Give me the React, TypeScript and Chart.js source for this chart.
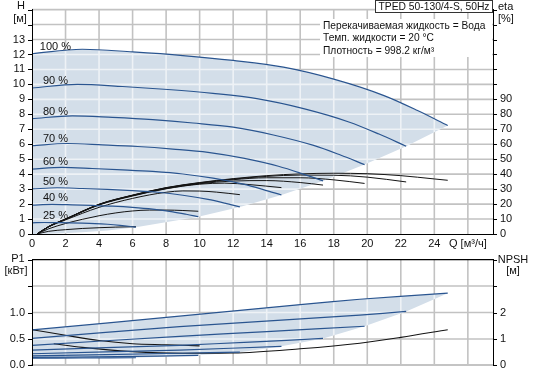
import React, { useEffect, useRef } from 'react';
import { Chart, registerables } from 'chart.js';

Chart.register(...registerables);

const FONT = '"Liberation Sans", Arial, Helvetica, sans-serif';
const BLUE = '#2a5590';
const BLACK = '#141414';
const FILL = '#d3dee9';
const GRID = '#c2c2c2';
const GRID_ON_FILL = '#eef2f6';

// ---------- texts ----------
const TITLE = 'TPED 50-130/4-S, 50Hz';
const INFO_LINES = ['Перекачиваемая жидкость = Вода', 'Темп. жидкости = 20 °C', 'Плотность = 998.2 кг/м³'];
const X_TITLE = 'Q [м³/ч]';
const SPEED_LABELS = ['100 %', '90 %', '80 %', '70 %', '60 %', '50 %', '40 %', '25 %'];

// ---------- grid positions ----------
const X_MAX = 27.5;
const X_GRID = [2, 4, 6, 8, 10, 12, 14, 16, 18, 20, 22, 24, 26];
const H_GRID = [1, 2, 3, 4, 5, 6, 7, 8, 9, 10, 11, 12, 13, 14, 15];
const P_GRID = [0.5, 1, 1.5];
const P_TOP = 2;

// ---------- top panel: head H [м] ----------
const Q100 = [0, 3, 6, 9, 12, 15, 18, 21, 23, 24.8];
const H100 = [12.05, 12.35, 12.17, 11.93, 11.6, 11.15, 10.35, 9.25, 8.25, 7.25];
const Q90 = [0, 2.7, 5.4, 8.1, 10.8, 13.5, 16.2, 18.9, 20.7, 22.32];
const H90 = [9.76, 10.0, 9.86, 9.66, 9.4, 9.03, 8.38, 7.49, 6.68, 5.87];
const Q80 = [0, 2.4, 4.8, 7.2, 9.6, 12, 14.4, 16.8, 18.4, 19.84];
const H80 = [7.71, 7.9, 7.79, 7.64, 7.42, 7.14, 6.62, 5.92, 5.28, 4.64];
const Q70 = [0, 2.1, 4.2, 6.3, 8.4, 10.5, 12.6, 14.7, 16.1, 17.36];
const H70 = [5.9, 6.05, 5.96, 5.85, 5.68, 5.46, 5.07, 4.53, 4.04, 3.55];
const Q60 = [0, 1.8, 3.6, 5.4, 7.2, 9, 10.8, 12.6, 13.8, 14.88];
const H60 = [4.34, 4.45, 4.38, 4.29, 4.18, 4.01, 3.73, 3.33, 2.97, 2.61];
const Q50 = [0, 1.5, 3, 4.5, 6, 7.5, 9, 10.5, 11.5, 12.4];
const H50 = [3.01, 3.09, 3.04, 2.98, 2.9, 2.79, 2.59, 2.31, 2.06, 1.81];
const Q40 = [0, 1.2, 2.4, 3.6, 4.8, 6, 7.2, 8.4, 9.2, 9.92];
const H40 = [1.93, 1.98, 1.95, 1.91, 1.86, 1.78, 1.66, 1.48, 1.32, 1.16];
const Q25 = [0, 0.75, 1.5, 2.25, 3, 3.75, 4.5, 5.25, 5.75, 6.2];
const H25 = [0.75, 0.77, 0.76, 0.75, 0.73, 0.7, 0.65, 0.58, 0.52, 0.45];

// lower-right edge of the operating range (end points of the curves)
const EDGE_Q = [24.8, 22.32, 19.84, 17.36, 14.88, 12.4, 9.92, 6.2, 4.5, 3, 1.5, 0];
const EDGE_H = [7.25, 5.87, 4.64, 3.55, 2.61, 1.81, 1.16, 0.45, 0.24, 0.11, 0.03, 0];

// ---------- top panel: efficiency eta [%] ----------
const EQ100 = [0.3, 1, 2, 4, 6, 8, 10, 12, 14, 16, 18, 20, 22, 24, 24.8];
const ETA100 = [0, 5, 10, 19.9, 26, 31, 34.4, 37, 39, 40.2, 40.6, 40.3, 39, 36.8, 35.9];
const EQ90 = [0.3, 1, 2, 4, 6, 8, 10, 12, 14, 16, 18, 20, 22.32];
const ETA90 = [0, 5, 10, 19.8, 25.9, 30.9, 34.2, 36.7, 38.5, 39.4, 39.3, 38, 34.8];
const EQ80 = [0.3, 1, 2, 4, 6, 8, 10, 12, 14, 16, 18, 19.84];
const ETA80 = [0, 5, 10, 19.7, 25.8, 30.7, 34, 36.3, 37.6, 37.6, 36.2, 33.8];
const EQ70 = [0.3, 1, 2, 4, 6, 8, 10, 12, 14, 16, 17.36];
const ETA70 = [0, 5, 9.9, 19.6, 25.6, 30.4, 33.6, 35.4, 35.7, 34.4, 32.7];
const EQ60 = [0.3, 1, 2, 4, 6, 8, 10, 11.5, 13, 14.88];
const ETA60 = [0, 4.9, 9.8, 19.4, 25.4, 30.2, 33.3, 34, 33, 31];
const EQ50 = [0.3, 1, 2, 4, 6, 8, 9, 10, 11, 12.4];
const ETA50 = [0, 4.8, 9.4, 17.8, 23.8, 27.9, 28.8, 28.7, 28, 26.3];
const EQ40 = [0.3, 1, 2, 3, 4, 5, 6, 7, 8, 9, 9.92];
const ETA40 = [0, 3.5, 7, 9.8, 12.2, 14.1, 15.4, 16, 16, 15.7, 15.2];
const EQ25 = [0.3, 1, 2, 3, 4, 5, 6.2];
const ETA25 = [0, 1.8, 2.9, 3.7, 4.2, 4.6, 4.9];

// ---------- bottom panel: power P1 [кВт] ----------
const PQ100 = [0, 8.8, 16, 19.55, 24.8];
const P100 = [0.67, 0.93, 1.15, 1.25, 1.366];
const PQ90 = [0, 8.8, 19.55, 22.32];
const P90 = [0.51, 0.733, 0.95, 1.02];
const PQ80 = [0, 8.8, 14, 19.84];
const P80 = [0.38, 0.55, 0.64, 0.74];
const PQ70 = [0, 8.8, 13, 17.36];
const P70 = [0.29, 0.38, 0.44, 0.51];
const PQ60 = [0, 8.8, 14.88];
const P60 = [0.22, 0.29, 0.36];
const PQ50 = [0, 8.8, 12.4];
const P50 = [0.18, 0.23, 0.25];
const PQ40 = [0, 5, 9.92];
const P40 = [0.15, 0.165, 0.19];
const PQ25 = [0, 3, 6.2];
const P25 = [0.135, 0.14, 0.145];
const PEDGE_Q = [22.32, 19.84, 17.36, 14.88, 12.4, 9.92, 6.2, 0];
const PEDGE = [1.02, 0.74, 0.51, 0.36, 0.25, 0.19, 0.145, 0.135];

// ---------- bottom panel: NPSH [м] ----------
const NQ = [1.3, 3, 6, 9, 12, 16, 19.55, 22, 24.8];
const NPSH = [0.82, 0.68, 0.52, 0.46, 0.47, 0.63, 0.84, 1.06, 1.35];
const NQ2 = [0, 2, 4, 6, 8, 10];
const NPSH2 = [1.35, 1.14, 0.94, 0.82, 0.78, 0.74];

const pts = (xs: number[], ys: number[]) => xs.map((x, i) => ({ x, y: ys[i] }));

const H_SETS = [[Q100, H100], [Q90, H90], [Q80, H80], [Q70, H70], [Q60, H60], [Q50, H50], [Q40, H40], [Q25, H25]];
const ETA_SETS = [[EQ100, ETA100], [EQ90, ETA90], [EQ80, ETA80], [EQ70, ETA70], [EQ60, ETA60], [EQ50, ETA50], [EQ40, ETA40], [EQ25, ETA25]];
const P_SETS = [[PQ100, P100], [PQ90, P90], [PQ80, P80], [PQ70, P70], [PQ60, P60], [PQ50, P50], [PQ40, P40], [PQ25, P25]];

// grid as line data (gaps separate the individual lines)
const vGrid = (yMax: number) => X_GRID.flatMap((q) => [{ x: q, y: 0 }, { x: q, y: yMax }, { x: q, y: null }]);
const hGrid = (vals: number[]) => vals.flatMap((v) => [{ x: 0, y: v }, { x: X_MAX, y: v }, { x: X_MAX, y: null }]);

const AREA = 'area';
const WHITE = 'whiteGrid';

const gridDs = (data: any[], yAxisID: string, color: string, order: number, tag = '', width = 1.6) => ({
  data,
  yAxisID,
  tag,
  order,
  showLine: true,
  borderColor: color,
  borderWidth: width,
  pointRadius: 0,
  fill: false,
  tension: 0,
  spanGaps: false,
  clip: 2,
});

const areaDs = (data: any[], yAxisID: string) => ({
  data,
  yAxisID,
  tag: AREA,
  order: 20,
  showLine: true,
  borderWidth: 0,
  borderColor: 'rgba(0,0,0,0)',
  backgroundColor: FILL,
  pointRadius: 0,
  fill: 'shape',
  tension: 0,
});

const lineDs = (data: any[], color: string, yAxisID: string, width = 1.2) => ({
  data,
  yAxisID,
  order: 0,
  showLine: true,
  borderColor: color,
  borderWidth: width,
  pointRadius: 0,
  fill: false,
  cubicInterpolationMode: 'monotone',
});

// clip the light grid to the operating-range area
const clipToArea = {
  id: 'clipToArea',
  beforeDatasetDraw(chart: any, args: any) {
    const ds = chart.data.datasets[args.index];
    if (!ds || ds.tag !== WHITE) return;
    const idx = chart.data.datasets.findIndex((d: any) => d.tag === AREA);
    const el = chart.getDatasetMeta(idx).data || [];
    const { ctx } = chart;
    ctx.save();
    ctx.beginPath();
    for (let i = 0; i < el.length; i++) {
      const p = el[i];
      if (i === 0) ctx.moveTo(p.x, p.y);
      else ctx.lineTo(p.x, p.y);
    }
    ctx.closePath();
    ctx.clip();
  },
  afterDatasetDraw(chart: any, args: any) {
    const ds = chart.data.datasets[args.index];
    if (!ds || ds.tag !== WHITE) return;
    chart.ctx.restore();
  },
};

function drawTickMarks(chart: any, yId: string, rId: string) {
  const { ctx, chartArea: a } = chart;
  const ys = chart.scales[yId];
  const yr = chart.scales[rId];
  const L = Math.round(a.left);
  const R = Math.round(a.right);
  ctx.save();
  ctx.fillStyle = '#000';
  ys.ticks.forEach((t: any) => ctx.fillRect(L - 4, Math.round(ys.getPixelForValue(t.value)), 4, 1));
  yr.ticks.forEach((t: any) => ctx.fillRect(R, Math.round(yr.getPixelForValue(t.value)), 4, 1));
  ctx.restore();
}

const noGrid = { display: false, drawTicks: true, tickLength: 4 };

export default function App() {
  const topRef = useRef<HTMLCanvasElement>(null);
  const botRef = useRef<HTMLCanvasElement>(null);

  useEffect(() => {
    Chart.defaults.font.family = FONT;
    Chart.defaults.font.size = 11;
    Chart.defaults.color = '#111';

    const topTexts = {
      id: 'topTexts',
      afterDraw(chart: any) {
        drawTickMarks(chart, 'y', 'yEta');
        const { ctx } = chart;
        const xs = chart.scales.x;
        const ys = chart.scales.y;
        ctx.save();
        ctx.font = `11px ${FONT}`;
        ctx.fillStyle = '#111';
        ctx.textBaseline = 'middle';
        ctx.textAlign = 'center';
        H_SETS.forEach((s, i) => {
          ctx.fillText(SPEED_LABELS[i], xs.getPixelForValue(1.4), ys.getPixelForValue(s[1][0]) - 7);
        });
        ctx.fillText('H', 21, 6);
        ctx.fillText('[м]', 20, 19);
        ctx.textAlign = 'left';
        ctx.fillText('eta', 498, 6.5);
        ctx.fillText('[%]', 498, 18.5);
        ctx.fillStyle = '#333';
        ctx.fillRect(375, 0, 118, 13);
        ctx.fillStyle = '#fff';
        ctx.fillRect(376, 1, 116, 11);
        ctx.font = `10.3px ${FONT}`;
        ctx.fillStyle = '#111';
        ctx.textAlign = 'center';
        ctx.fillText(TITLE, 434, 7);
        ctx.fillStyle = '#fff';
        ctx.fillRect(320, 19, 172, 38);
        ctx.fillStyle = '#111';
        ctx.textAlign = 'left';
        ctx.font = `10.2px ${FONT}`;
        INFO_LINES.forEach((t, i) => ctx.fillText(t, 323, 26 + i * 12.5));
        ctx.restore();
      },
    };

    const botTexts = {
      id: 'botTexts',
      afterDraw(chart: any) {
        drawTickMarks(chart, 'yP', 'yN');
        const { ctx } = chart;
        ctx.save();
        ctx.font = `11px ${FONT}`;
        ctx.fillStyle = '#111';
        ctx.textBaseline = 'middle';
        ctx.textAlign = 'center';
        ctx.fillText('P1', 18, 9);
        ctx.fillText('[кВт]', 16, 20.5);
        ctx.fillText('NPSH', 513, 10);
        ctx.fillText('[м]', 513, 21);
        ctx.restore();
      },
    };

    const topDatasets: any[] = [
      areaDs([...pts(Q100, H100), ...pts(EDGE_Q, EDGE_H)], 'y'),
      gridDs(vGrid(15), 'y', GRID, 30),
      gridDs(hGrid(H_GRID), 'y', GRID, 30),
      gridDs([...vGrid(15), ...hGrid(H_GRID)], 'y', GRID_ON_FILL, 10, WHITE),
      ...H_SETS.map((s) => lineDs(pts(s[0], s[1]), BLUE, 'y')),
      ...ETA_SETS.map((s) => lineDs(pts(s[0], s[1]), BLACK, 'yEta', 1)),
    ];

    const top = new Chart(topRef.current as HTMLCanvasElement, {
      type: 'scatter',
      data: { datasets: topDatasets },
      options: {
        animation: false,
        responsive: false,
        devicePixelRatio: 1,
        layout: { padding: { top: 1, left: 0, right: 0, bottom: 0 } },
        plugins: { legend: { display: false }, tooltip: { enabled: false } },
        scales: {
          x: {
            type: 'linear',
            min: 0,
            max: X_MAX,
            ticks: {
              stepSize: 2,
              includeBounds: false,
              autoSkip: false,
              maxRotation: 0,
              padding: 3,
              callback: (v: any) => (v <= 24 ? String(v) : v === 26 ? X_TITLE : ''),
            },
            grid: { display: false, drawTicks: false },
            border: { color: '#000', width: 1, z: 1 },
            afterFit: (s: any) => { s.height = 16; },
          },
          y: {
            type: 'linear',
            position: 'left',
            min: 0,
            max: 15,
            ticks: { stepSize: 1, includeBounds: false, autoSkip: false, padding: 3, callback: (v: any) => (v <= 13 ? String(v) : '') },
            grid: noGrid,
            border: { color: '#000', width: 1, z: 1 },
            afterFit: (s: any) => { s.width = 32; },
          },
          yEta: {
            type: 'linear',
            position: 'right',
            min: 0,
            max: 150,
            ticks: { stepSize: 10, includeBounds: false, autoSkip: false, padding: 3, callback: (v: any) => (v <= 90 ? String(v) : '') },
            grid: noGrid,
            border: { color: '#000', width: 1, z: 1 },
            afterFit: (s: any) => { s.width = 40; },
          },
        },
      } as any,
      plugins: [clipToArea, topTexts],
    } as any);

    const botDatasets: any[] = [
      areaDs([...pts(PQ100, P100), ...pts(PEDGE_Q, PEDGE)], 'yP'),
      gridDs(vGrid(P_TOP), 'yP', GRID, 30),
      gridDs(hGrid(P_GRID), 'yP', GRID, 30),
      gridDs([...vGrid(P_TOP), ...hGrid(P_GRID)], 'yP', GRID_ON_FILL, 10, WHITE),
      gridDs(hGrid([P_TOP]), 'yP', '#000', 5, '', 1.2),
      ...P_SETS.map((s) => ({ ...lineDs(pts(s[0], s[1]), BLUE, 'yP'), cubicInterpolationMode: 'default', tension: 0.2 })),
      lineDs(pts(NQ, NPSH), BLACK, 'yN', 1.1),
      lineDs(pts(NQ2, NPSH2), BLACK, 'yN', 1.1),
    ];

    const bot = new Chart(botRef.current as HTMLCanvasElement, {
      type: 'scatter',
      data: { datasets: botDatasets },
      options: {
        animation: false,
        responsive: false,
        devicePixelRatio: 1,
        layout: { padding: { top: 2.3, left: 0, right: 0, bottom: 0 } },
        plugins: { legend: { display: false }, tooltip: { enabled: false } },
        scales: {
          x: {
            type: 'linear',
            min: 0,
            max: X_MAX,
            ticks: { display: false, stepSize: 2, includeBounds: false, autoSkip: false },
            grid: { display: false, drawTicks: false },
            border: { color: '#c4c4c4', width: 2, z: 1 },
            afterFit: (s: any) => { s.height = 9; },
          },
          yP: {
            type: 'linear',
            position: 'left',
            min: 0,
            max: 2,
            ticks: { stepSize: 0.5, includeBounds: false, autoSkip: false, padding: 3, callback: (v: any) => (v <= 1 ? Number(v).toFixed(1) : '') },
            grid: noGrid,
            border: { color: '#000', width: 1, z: 1 },
            afterFit: (s: any) => { s.width = 32; },
          },
          yN: {
            type: 'linear',
            position: 'right',
            min: 0,
            max: 4,
            ticks: { stepSize: 1, includeBounds: false, autoSkip: false, padding: 3, callback: (v: any) => (v <= 2 ? String(v) : '') },
            grid: noGrid,
            border: { color: '#000', width: 1, z: 1 },
            afterFit: (s: any) => { s.width = 40; },
          },
        },
      } as any,
      plugins: [clipToArea, botTexts],
    } as any);

    return () => {
      top.destroy();
      bot.destroy();
    };
  }, []);

  return (
    <div style={{ position: 'absolute', left: 0, top: 0, width: 533, height: 375, background: '#fff' }}>
      <canvas ref={topRef} width={533} height={250} style={{ display: 'block', width: 533, height: 250 }} />
      <canvas ref={botRef} width={533} height={125} style={{ display: 'block', width: 533, height: 125 }} />
    </div>
  );
}
